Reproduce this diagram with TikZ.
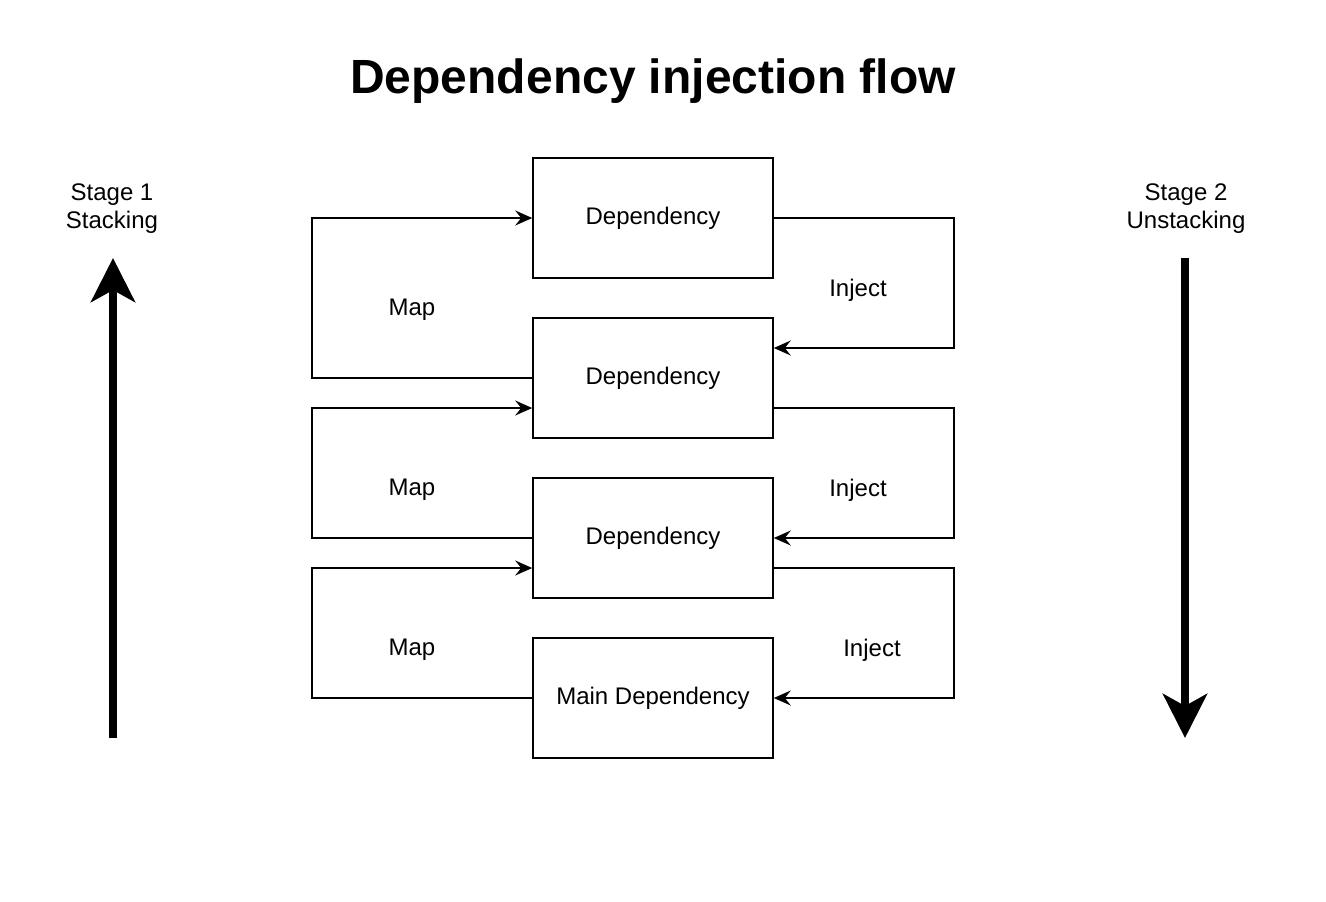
\documentclass[tikz,border=0pt]{standalone}
\usepackage{fontspec}
\setmainfont{Liberation Sans}
\usetikzlibrary{arrows.meta,positioning,calc}
\tikzstyle{dep}=[rectangle,draw,line width=1.6pt,minimum width=240pt,minimum height=120pt,inner sep=0pt,font=\fontsize{24}{28}\selectfont]
\tikzstyle{lbl}=[align=center,font=\fontsize{24}{28}\selectfont]
\tikzstyle{flow}=[line width=1.6pt,-{Stealth[length=17pt,width=15pt,inset=6pt]}]
\tikzstyle{stage}=[line width=8pt,-{Stealth[length=44pt,width=44pt,inset=12pt]}]

\begin{document}
\begin{tikzpicture}[x=1pt,y=-1pt]
\useasboundingbox (0,0) rectangle (1326,902);
%-------------------------start title code ---------------------
	\node[font=\fontsize{48}{56}\selectfont\bfseries] (title) at (653,81) {Dependency injection flow};
%--------------------start object code --------------------
	\node[dep] (dep1) at (653,218) {Dependency};
	\node[dep] (dep2) at (653,378) {Dependency};
	\node[dep] (dep3) at (653,538) {Dependency};
	\node[dep] (dep4) at (653,698) {Main Dependency};

	%Map connectors
	\draw[flow] (dep2.west) -- ++(-220,0) |- (dep1.west);
	\draw[flow] (dep3.west) -- ++(-220,0) |- ($(dep2.west)+(0,30)$);
	\draw[flow] (dep4.west) -- ++(-220,0) |- ($(dep3.west)+(0,30)$);
	\node[lbl] (map1) at (412,310) {Map};
	\node[lbl] (map2) at (412,490) {Map};
	\node[lbl] (map3) at (412,650) {Map};

	%Inject connectors
	\draw[flow] (dep1.east) -- ++(180,0) |- ($(dep2.east)+(0,-30)$);
	\draw[flow] ($(dep2.east)+(0,30)$) -- ++(180,0) |- (dep3.east);
	\draw[flow] ($(dep3.east)+(0,30)$) -- ++(180,0) |- (dep4.east);
	\node[lbl] (inject1) at (858,290) {Inject};
	\node[lbl] (inject2) at (858,490) {Inject};
	\node[lbl] (inject3) at (872,650) {Inject};

	%Stage arrows
	\node[lbl] (stage1) at (112,209) {Stage 1\\Stacking};
	\node[lbl] (stage2) at (1186,209) {Stage 2\\Unstacking};
	\coordinate (upstart) at (113,738);
	\coordinate (upend) at (113,258);
	\draw[stage] (upstart) -- (upend);
	\coordinate (downstart) at (1185,258);
	\coordinate (downend) at (1185,738);
	\draw[stage] (downstart) -- (downend);
%-------------------------end object code-----------------------
\end{tikzpicture}
\end{document}
